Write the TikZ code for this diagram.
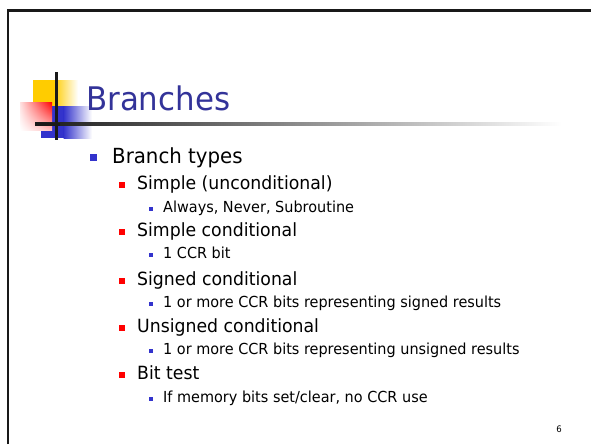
\documentclass[tikz,border=0pt]{standalone}
\usepackage{fontspec}
\setmainfont{DejaVu Sans}[FakeStretch=0.95]
\usetikzlibrary{shadings}
\begin{document}
\begin{tikzpicture}[x=1pt,y=-1pt,
  lvlone/.style={anchor=base west,inner sep=0pt,font=\fontsize{20.8}{24}\selectfont},
  lvltwo/.style={anchor=base west,inner sep=0pt,font=\fontsize{18.2}{21}\selectfont},
  lvlthree/.style={anchor=base west,inner sep=0pt,font=\fontsize{15.2}{18}\selectfont},
  bulone/.style={fill=bulletblue,draw=none},
  bultwo/.style={fill=red,draw=none},
  bulthree/.style={fill=bulletblue,draw=none}]
\definecolor{titleblue}{RGB}{51,51,153}
\definecolor{bulletblue}{RGB}{51,51,204}
\definecolor{logoyellow}{RGB}{255,204,0}
\definecolor{logoblue}{RGB}{51,51,204}
\useasboundingbox (0,0) rectangle (591,444);
\fill[white] (0,0) rectangle (591,444);

% slide frame
\draw[line width=2.7pt,black!90] (8,444) -- (8,10.5) -- (591,10.5);

% logo squares
\fill[logoyellow] (33,80) rectangle (54,108);
\shade[left color=logoyellow,right color=white] (53.5,80) rectangle (78,108);
\fill[logoblue] (41,106) rectangle (64,138);
\shade[left color=logoblue,right color=white] (63.5,106) rectangle (92,138);
\shade[upper left=red!12,upper right=red,lower left=white,lower right=red!25] (20,102) rectangle (52,130);
% logo bars
\shade[left color=black!90,right color=white] (35,122.5) rectangle (562,125.5);
\fill[black!90] (35,122.5) rectangle (60,125.5);
\fill[black!90] (55,72) rectangle (58,140);

% title
\node[anchor=base west,inner sep=0pt,text=titleblue,font=\fontsize{32.5}{38}\selectfont] (title) at (86,110) {Branches};

% bullets
\fill[bulone] (90,154) rectangle (97,161);
\node[lvlone] (t1) at (112,163) {Branch types};

\fill[bultwo] (119,182) rectangle (124.5,187.5);
\node[lvltwo] (t2) at (137,189) {Simple (unconditional)};
\fill[bulthree] (149,207) rectangle (153,211);
\node[lvlthree] (t3) at (163,212) {Always, Never, Subroutine};

\fill[bultwo] (119,229) rectangle (124.5,234.5);
\node[lvltwo] (t4) at (137,236) {Simple conditional};
\fill[bulthree] (149,253) rectangle (153,257);
\node[lvlthree] (t5) at (163,258) {1 CCR bit};

\fill[bultwo] (119,278) rectangle (124.5,283.5);
\node[lvltwo] (t6) at (137,285) {Signed conditional};
\fill[bulthree] (149,302) rectangle (153,306);
\node[lvlthree] (t7) at (163,307) {1 or more CCR bits representing signed results};

\fill[bultwo] (119,325) rectangle (124.5,330.5);
\node[lvltwo] (t8) at (137,332) {Unsigned conditional};
\fill[bulthree] (149,349) rectangle (153,353);
\node[lvlthree] (t9) at (163,354) {1 or more CCR bits representing unsigned results};

\fill[bultwo] (119,372) rectangle (124.5,377.5);
\node[lvltwo] (t10) at (137,379) {Bit test};
\fill[bulthree] (149,397) rectangle (153,401);
\node[lvlthree] (t11) at (163,402) {If memory bits set/clear, no CCR use};

% page number
\node[anchor=base,inner sep=0pt,font=\fontsize{9}{11}\selectfont] (pg) at (559,432) {6};
\end{tikzpicture}
\end{document}
